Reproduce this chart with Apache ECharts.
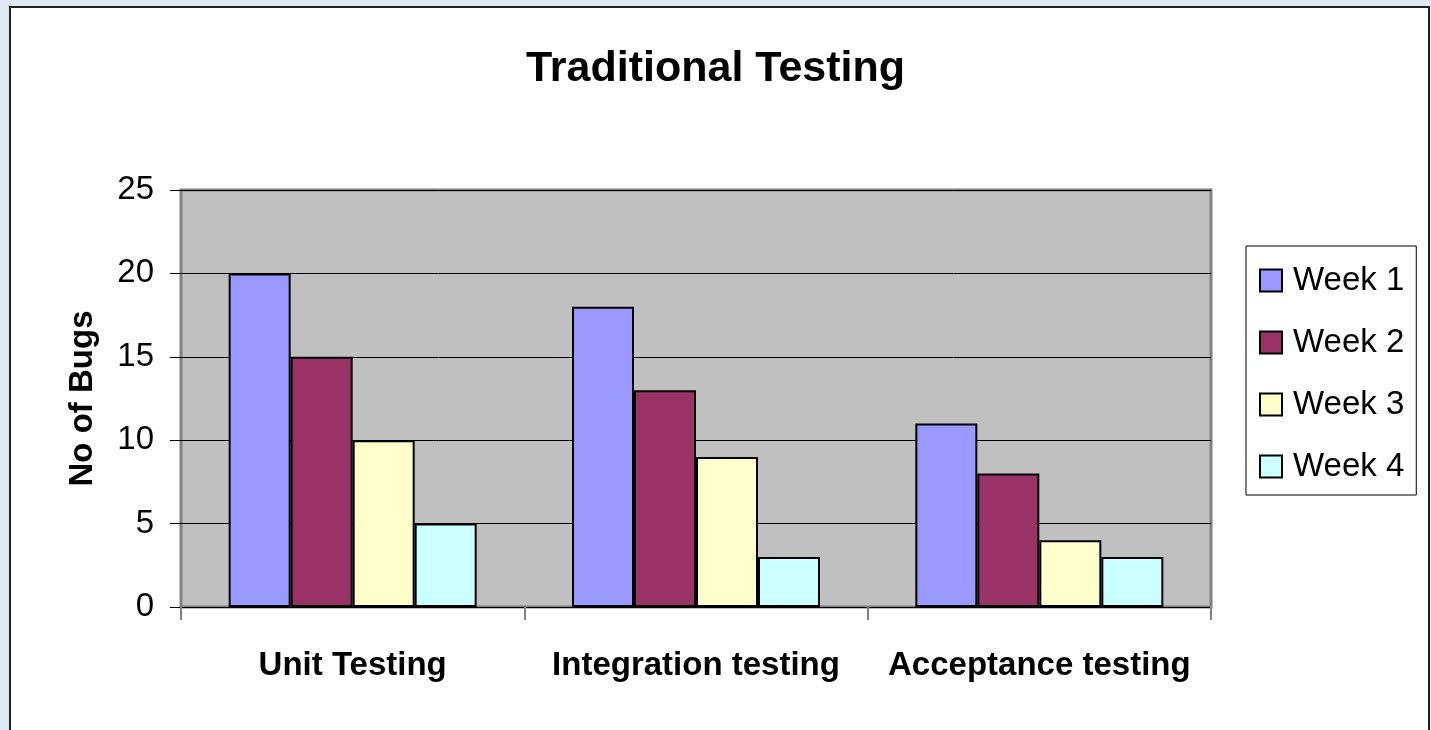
<!DOCTYPE html>
<html>
<head>
<meta charset="utf-8">
<script src="https://cdn.jsdelivr.net/npm/echarts@6/dist/echarts.min.js"></script>
<style>
	* { margin: 0; padding: 0; }
	body { background: #dfe8f3; }
	#main { width: 1431px; height: 730px; }
</style>
</head>
<body>
<div id="main"></div>
<script>
	// 数据
	var categories = ['Unit Testing', 'Integration testing', 'Acceptance testing'];
	var week1 = [20, 18, 11];
	var week2 = [15, 13, 8];
	var week3 = [10, 9, 4];
	var week4 = [5, 3, 3];
	var seriesNames = ['Week 1', 'Week 2', 'Week 3', 'Week 4'];
	var colors = ['#9999ff', '#993366', '#ffffcc', '#ccffff'];

	var font = 'Arial, "Liberation Sans", sans-serif';
	var chart = echarts.init(document.getElementById('main'));

	function bar(name, data, color) {
		return {
			name: name,
			type: 'bar',
			data: data,
			barWidth: 62,
			barGap: '0%',
			itemStyle: { color: color, borderColor: '#000', borderWidth: 2 }
		};
	}

	chart.setOption({
		animation: false,
		graphic: [{
			type: 'rect',
			z: -10,
			shape: { x: 10, y: 7, width: 1419, height: 800 },
			style: { fill: '#fff', stroke: '#222', lineWidth: 2 }
		}],
		title: {
			text: 'Traditional Testing',
			left: 'center',
			top: 43,
			textStyle: { fontFamily: font, fontSize: 43, fontWeight: 'bold', color: '#000' }
		},
		legend: {
			orient: 'vertical',
			left: 1246,
			top: 246,
			backgroundColor: '#fff',
			borderColor: '#000',
			borderWidth: 1,
			padding: [18, 12, 12, 13],
			itemWidth: 22,
			itemHeight: 22,
			itemGap: 29,
			icon: 'rect',
			data: seriesNames,
			textStyle: { fontFamily: font, fontSize: 33, color: '#000', padding: [0, 0, 0, 6] }
		},
		grid: {
			left: 181,
			top: 190,
			right: 220,
			bottom: 123,
			show: true,
			backgroundColor: '#c0c0c0',
			borderColor: '#808080',
			borderWidth: 3
		},
		xAxis: {
			type: 'category',
			data: categories,
			axisLine: { lineStyle: { color: '#000', width: 1 } },
			axisTick: { show: true, interval: 0, length: 13, lineStyle: { color: '#808080', width: 2 } },
			axisLabel: { interval: 0, fontFamily: font, fontSize: 33, fontWeight: 'bold', color: '#000', margin: 42 }
		},
		yAxis: {
			type: 'value',
			min: 0,
			max: 25,
			interval: 5,
			name: 'No of Bugs',
			nameLocation: 'middle',
			nameGap: 82,
			nameTextStyle: { fontFamily: font, fontSize: 33, fontWeight: 'bold', color: '#000' },
			axisLine: { show: false },
			axisTick: { show: true, length: 11, lineStyle: { color: '#000' } },
			axisLabel: { fontFamily: font, fontSize: 33, color: '#000', margin: 27 },
			splitLine: { lineStyle: { color: '#000', width: 1 } }
		},
		series: [
			bar(seriesNames[0], week1, colors[0]),
			bar(seriesNames[1], week2, colors[1]),
			bar(seriesNames[2], week3, colors[2]),
			bar(seriesNames[3], week4, colors[3])
		]
	});
</script>
</body>
</html>
